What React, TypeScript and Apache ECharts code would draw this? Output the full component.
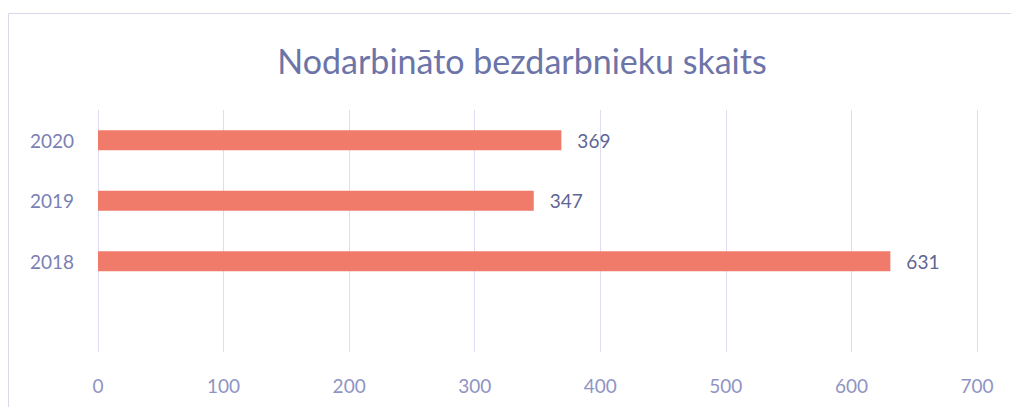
import React, { useEffect, useRef } from "react";
import * as echarts from "echarts";

const categories = ["", "2018", "2019", "2020"];
const values = [null, 631, 347, 369];
const xTicks = [0, 100, 200, 300, 400, 500, 600, 700];
const title = "Nodarbināto bezdarbnieku skaits";

export default function App() {
  const ref = useRef<HTMLDivElement>(null);
  useEffect(() => {
    if (!ref.current) return;
    const chart = echarts.init(ref.current, null, { renderer: "svg" });
    chart.setOption({
      animation: false,
      backgroundColor: "#ffffff",
      title: {
        text: title,
        left: 517,
        textAlign: "center",
        top: 38,
        textStyle: { fontFamily: "Lato", fontSize: 34, fontWeight: "normal", color: "#6c74a8" },
      },
      graphic: [
        {
          type: "rect",
          shape: { x: 8.5, y: 13.5, width: 1010, height: 420 },
          style: { fill: "none", stroke: "#d6d8ec", lineWidth: 1 },
          silent: true,
        },
      ],
      grid: { left: 98, right: 34, top: 110, bottom: 55 },
      xAxis: {
        type: "value",
        min: xTicks[0],
        max: xTicks[xTicks.length - 1],
        interval: 100,
        axisLine: { show: false },
        axisTick: { show: false },
        splitLine: { show: true, lineStyle: { color: "#dcdcf2", width: 1 } },
        axisLabel: { fontFamily: "Lato", fontSize: 19, color: "#9094c4", margin: 24 },
      },
      yAxis: {
        type: "category",
        data: categories,
        axisLine: { show: false },
        axisTick: { show: false },
        splitLine: { show: false },
        axisLabel: { fontFamily: "Lato", fontSize: 19, color: "#7a80b4", margin: 24 },
      },
      series: [
        {
          type: "bar",
          data: values,
          barWidth: 20,
          itemStyle: { color: "#f07b6b" },
          label: {
            show: true,
            position: "right",
            distance: 16,
            fontFamily: "Lato",
            fontSize: 19,
            color: "#5f6594",
          },
        },
      ],
    });
    return () => chart.dispose();
  }, []);
  return (
    <div
      ref={ref}
      style={{ position: "fixed", left: 0, top: 0, width: 1011, height: 407 }}
    />
  );
}
